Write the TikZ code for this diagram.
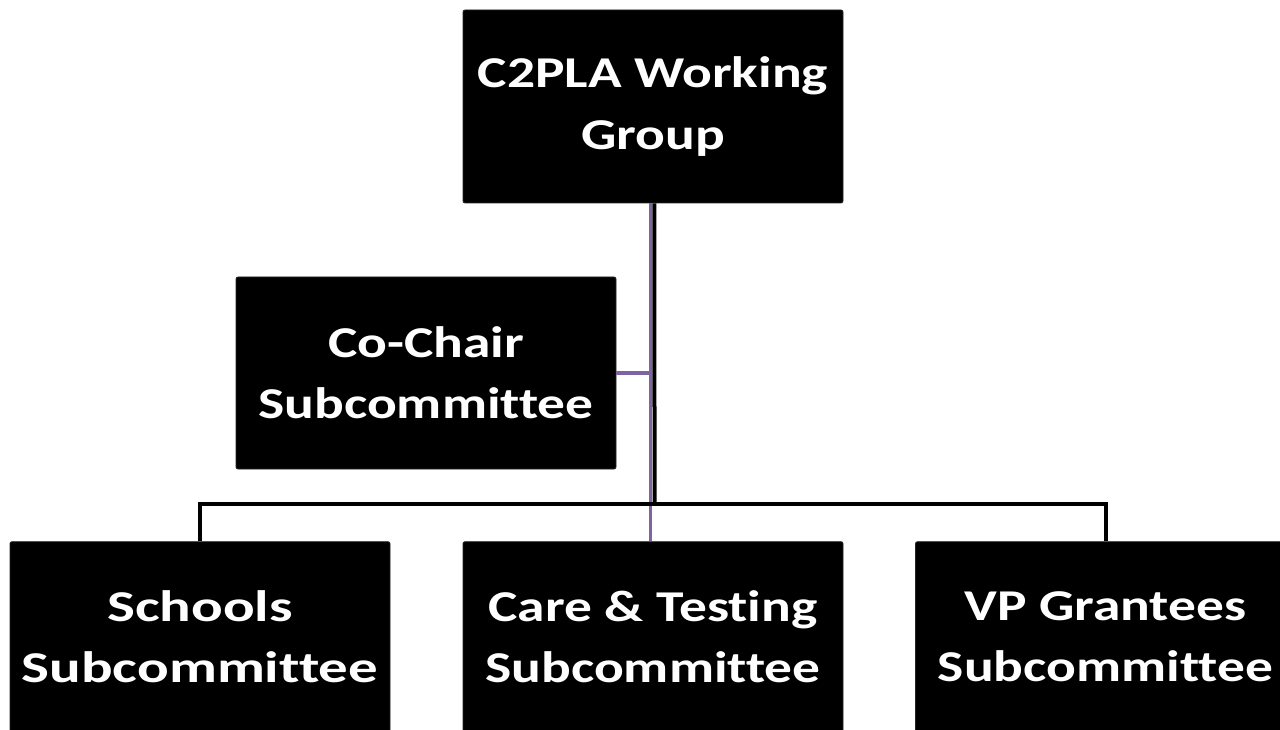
\documentclass[tikz,border=0pt]{standalone}
\usepackage{fontspec}
\newfontfamily\boxfont[FakeStretch=1.26, Ligatures=NoCommon]{Carlito}
\newfontfamily\wideboxfont[FakeStretch=1.34, Ligatures=NoCommon]{Carlito}
\definecolor{linkpurple}{HTML}{8064A2}
\tikzset{
  orgbox/.style={rectangle, fill=black, draw=black!85, line width=0.6pt, rounded corners=1.5pt,
    minimum width=285pt, text=white, align=center,
    font=\boxfont\bfseries\fontsize{33}{46}\selectfont, inner sep=0pt},
  widebox/.style={orgbox, font=\wideboxfont\bfseries\fontsize{33}{46}\selectfont},
  conn/.style={draw=black, line width=3pt},
  purp/.style={draw=linkpurple, line width=2.3pt}
}
\begin{document}
\begin{tikzpicture}[x=0.75pt, y=-0.75pt]
\useasboundingbox (0,0) rectangle (1280,730);
\fill[white] (0,0) rectangle (1280,730);
\clip (0,0) rectangle (1280,730);
\node[orgbox, minimum height=144.75pt] (top) at (653,106.5) {C2PLA Working\\Group};
\node[orgbox, minimum height=144pt] (cochair) at (426,373) {Co-Chair\\Subcommittee};
\node[widebox, minimum height=143pt] (schools) at (200,637) {Schools\\Subcommittee};
\node[orgbox, minimum height=143pt] (care) at (653,637) {Care \& Testing\\Subcommittee};
\node[orgbox, minimum height=143pt] (vp) at (1105.5,637) {VP Grantees\\Subcommittee};
\coordinate (barM) at (654.5,504);
\coordinate (pv) at (650.5,373);
% purple connectors
\draw[purp] ([xshift=-1.9pt]top.south) -- ([xshift=-1.9pt]care.north);
\draw[purp] (cochair.east) -- (pv);
% black connectors
\draw[conn] ([xshift=1.1pt]top.south) -- (barM);
\draw[conn, line join=miter] (schools.north) |- (barM) -| (vp.north);
\end{tikzpicture}
\end{document}
